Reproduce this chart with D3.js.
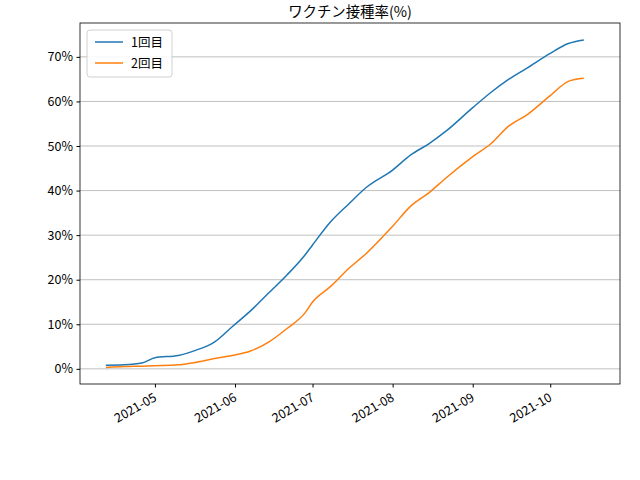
<!DOCTYPE html>
<html><head><meta charset="utf-8">
<script src="https://cdn.jsdelivr.net/npm/d3@7"></script>
<style>body{margin:0;background:#fff}text{font-family:"Noto Sans CJK JP","DejaVu Sans",sans-serif}</style>
</head><body>
<script>
var dates = ["2021-04-12","2021-04-19","2021-04-26","2021-05-01","2021-05-10","2021-05-17","2021-05-24","2021-05-31",
  "2021-06-07","2021-06-14","2021-06-21","2021-06-28","2021-07-01","2021-07-08","2021-07-15","2021-07-22",
  "2021-08-01","2021-08-08","2021-08-15","2021-08-22","2021-09-01","2021-09-08","2021-09-15","2021-09-22",
  "2021-10-01","2021-10-08","2021-10-14"];
var dose1 = [0.8,0.9,1.3,2.5,3.0,4.2,6.0,9.5,13,17,21,25.5,27.8,33,37,40.8,44.6,48,50.5,53.5,58.6,62,65,67.5,70.8,73,73.8];
var dose2 = [0.3,0.5,0.6,0.7,0.9,1.5,2.3,3.0,4.0,6.0,9.0,12.5,15,18.5,22.5,26,32,36.5,39.5,43,47.6,50.5,54.5,57,61.3,64.5,65.2];
var seriesNames = ["1回目","2回目"];
var colors = ["#1f77b4","#ff7f0e"];
var yTicks = [0,10,20,30,40,50,60,70];

var W=640,H=480,m={l:80,r:20,t:23,b:96};
var svg=d3.select("body").append("svg").attr("width",W).attr("height",H);
var parse=d3.timeParse("%Y-%m-%d");
var ds=dates.map(parse);
var x=d3.scaleTime().domain([parse("2021-04-02"),parse("2021-10-28")]).range([m.l,W-m.r]);
var y=d3.scaleLinear().domain([-3.4,77.6]).range([H-m.b,m.t]);

svg.append("g").selectAll("line").data(yTicks).join("line")
  .attr("x1",m.l).attr("x2",W-m.r).attr("y1",d=>y(d)).attr("y2",d=>y(d))
  .attr("stroke","#b0b0b0").attr("stroke-width",0.8);

var line=d3.line().x((d,i)=>x(ds[i])).y(d=>y(d)).curve(d3.curveMonotoneX);
[dose1,dose2].forEach(function(s,k){
  svg.append("path").attr("d",line(s)).attr("fill","none").attr("stroke",colors[k]).attr("stroke-width",1.5);
});

svg.append("rect").attr("x",m.l).attr("y",m.t).attr("width",W-m.l-m.r).attr("height",H-m.t-m.b)
  .attr("fill","none").attr("stroke","#000").attr("stroke-width",0.8);

var ya=svg.append("g").attr("transform","translate("+m.l+",0)")
  .call(d3.axisLeft(y).tickValues(yTicks).tickFormat(d=>d+"%").tickSize(3.5).tickPadding(3.5));
ya.select(".domain").remove();
ya.selectAll("text").attr("font-size",12.5).attr("fill","#000");

var xa=svg.append("g").attr("transform","translate(0,"+(H-m.b)+")")
  .call(d3.axisBottom(x).ticks(d3.timeMonth.every(1)).tickFormat(d3.timeFormat("%Y-%m")).tickSize(3.5));
xa.select(".domain").remove();
xa.selectAll(".tick").filter(d=>d<parse("2021-05-01")).remove();
xa.selectAll("text").attr("font-size",12.5).attr("fill","#000")
  .attr("text-anchor","end").attr("dy","0").attr("y",0)
  .attr("transform","translate(2,16) rotate(-30)");

svg.append("text").attr("x",(m.l+W-m.r)/2).attr("y",m.t-6).attr("text-anchor","middle")
  .attr("font-size",14.4).text("ワクチン接種率(%)");

var lg=svg.append("g").attr("transform","translate(87,30)");
lg.append("rect").attr("width",85).attr("height",47).attr("rx",3).attr("fill","#fff")
  .attr("stroke","#ccc").attr("opacity",0.9);
seriesNames.forEach(function(n,i){
  lg.append("line").attr("x1",8).attr("x2",36).attr("y1",12+i*21).attr("y2",12+i*21)
    .attr("stroke",colors[i]).attr("stroke-width",1.5);
  lg.append("text").attr("x",44).attr("y",17+i*21).attr("font-size",12.5).text(n);
});
</script>
</body></html>
